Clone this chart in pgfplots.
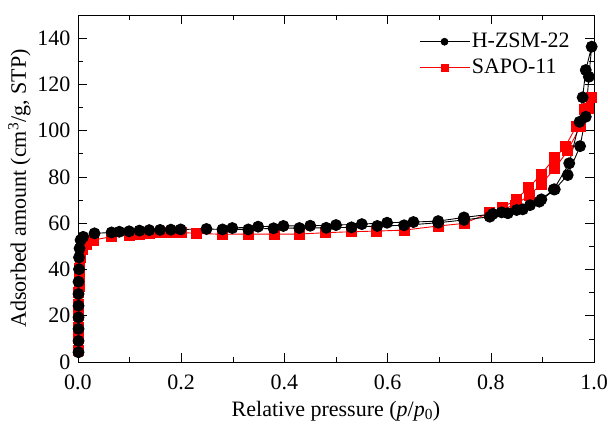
\documentclass[border=0pt]{standalone}
\usepackage{fontspec}
\setmainfont{Liberation Serif}
\usepackage{pgfplots}
\pgfplotsset{compat=1.18}
\begin{document}
\fontsize{22bp}{25bp}\selectfont
\begin{tikzpicture}
\begin{axis}[
  name=ax,
  scale only axis,
  width=516bp, height=347bp,
  xmin=0, xmax=1, ymin=0, ymax=150,
  xtick={0,0.2,...,1.0},
  ytick={0,20,...,140},
  minor x tick num=1, minor y tick num=1,
  xticklabel style={yshift=-5bp, /pgf/number format/.cd,fixed,fixed zerofill,precision=1},
  /pgf/number format/assume math mode=true,
  tick align=inside,
  major tick length=9bp, minor tick length=5bp,
  tick style={black, line width=0.6pt},
  axis line style={line width=0.8pt},
  xlabel={Relative pressure (\textit{p}/\textit{p}\textsubscript{0})},
  ylabel={Adsorbed amount (cm\textsuperscript{3}/g, STP)},
  xlabel style={yshift=3bp},
  ylabel style={yshift=-8bp},
  legend style={draw=none, fill=none, at={(0.957,0.955)}, anchor=north east, row sep=4bp, inner sep=0pt},
  legend cell align=left,
  reverse legend,
  legend image code/.code={\draw[line width=0.7pt,mark repeat=2,mark phase=2,mark size=3.5bp] plot coordinates {(0bp,0bp)(25bp,0bp)(50bp,0bp)};},
]
\addplot[red, line width=0.9pt, mark=square*, mark size=5bp] coordinates {
(0.001,5)(0.001,10)(0.001,15)(0.001,20)(0.001,25)(0.001,30)(0.002,32.5)(0.002,36.9)(0.003,40.5)(0.004,45.2)(0.009,48.7)(0.0155,50.6)(0.030,52.7)(0.065,54.2)(0.100,54.9)(0.119,55.2)(0.138,55.6)(0.159,55.9)(0.180,56.0)(0.200,56.0)(0.229,55.6)(0.280,55.2)(0.330,55.3)(0.380,55.3)(0.429,55.3)(0.480,55.9)(0.529,56.3)(0.579,56.6)(0.632,57.0)(0.698,58.8)(0.748,59.9)(0.798,64.5)(0.847,67.8)(0.875,72.2)(0.898,76.9)(0.924,83.7)(0.949,91.3)(0.973,101.7)(0.989,109.6)(0.9955,114.4)
(0.981,109.2)(0.966,102.0)(0.944,93.0)(0.924,88.3)(0.898,81.2)(0.873,75.3)(0.849,70.3)(0.823,66.7)(0.798,64.3)
};
\addlegendentry{SAPO-11}
\addplot[black, line width=0.9pt, mark=*, mark size=5.5bp] coordinates {
(0.001,4.2)(0.001,9.1)(0.001,14.3)(0.001,19.3)(0.001,24.3)(0.001,29.4)(0.001,34.7)(0.002,40.1)(0.002,45.2)(0.003,49.1)(0.005,52.7)(0.010,54.1)(0.032,55.6)(0.065,56.0)(0.080,56.3)(0.099,56.5)(0.119,56.8)(0.138,57.0)(0.159,57.1)(0.180,57.2)(0.199,57.3)(0.249,57.5)(0.280,57.3)(0.330,57.3)(0.379,57.8)(0.429,57.9)(0.481,58.0)(0.530,58.2)(0.580,58.8)(0.632,59.1)(0.698,60.2)(0.748,61.4)(0.798,62.8)(0.833,64.3)(0.862,66.0)(0.894,69.3)(0.924,74.6)(0.949,80.8)(0.973,93.3)(0.984,106.0)(0.990,123.3)(0.9955,136.3)
(0.984,126.2)(0.978,114.4)(0.972,103.8)(0.952,85.9)(0.922,74.6)(0.898,70.3)(0.876,67.8)(0.850,65.7)(0.821,64.7)(0.804,64.0)(0.748,62.5)(0.698,60.9)(0.650,60.5)(0.599,60.2)(0.550,59.6)(0.500,59.2)(0.450,58.9)(0.398,58.8)(0.349,58.5)(0.299,57.9)
};
\addlegendentry{H-ZSM-22}
\end{axis}
\pgfresetboundingbox
\path (ax.south west) ++(-78bp,-67bp) coordinate (bl);
\path (ax.north east) ++(14bp,15bp) coordinate (tr);
\path[use as bounding box] (bl) rectangle (tr);
\end{tikzpicture}
\end{document}
